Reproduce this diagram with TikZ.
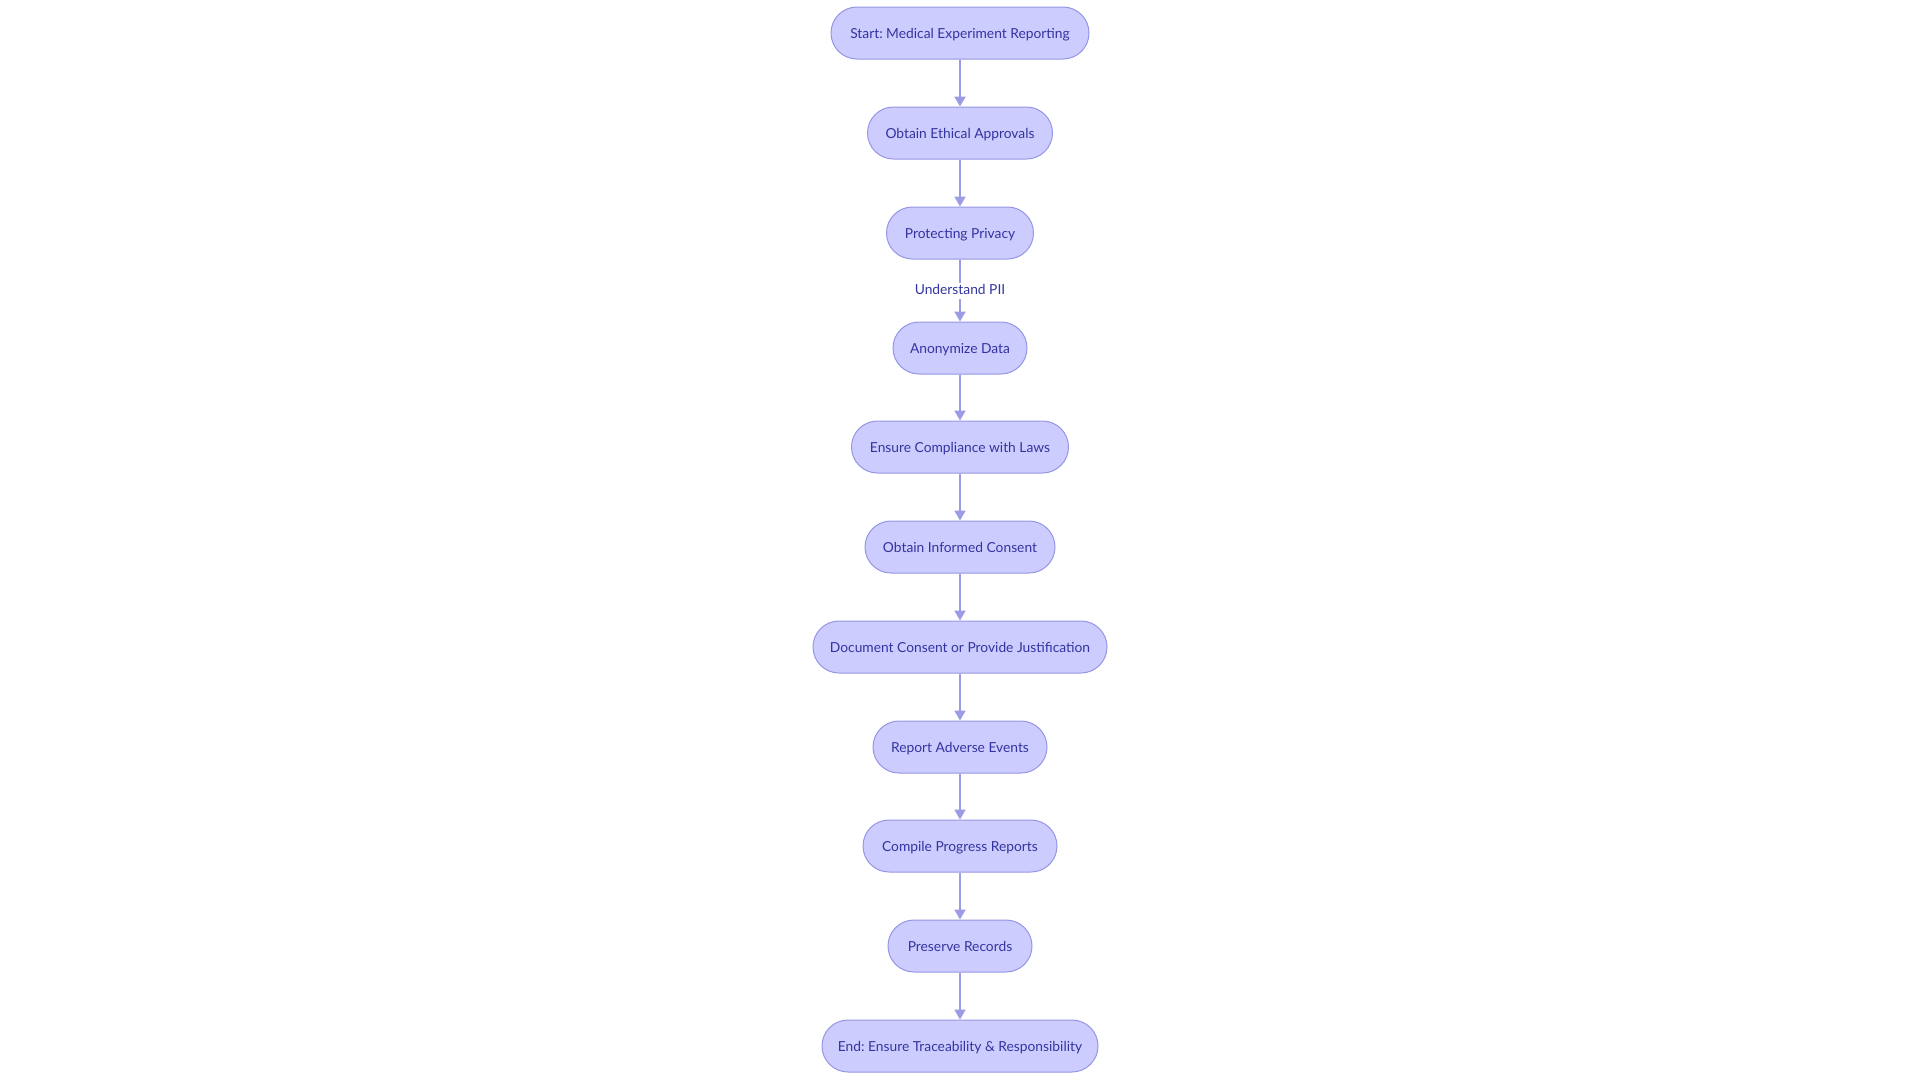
\documentclass[tikz,border=0pt]{standalone}
\usepackage{fontspec}
\setmainfont{Lato}
\usetikzlibrary{arrows.meta}
\definecolor{nodefill}{RGB}{204,204,255}
\definecolor{nodeline}{RGB}{150,150,228}
\definecolor{edgecol}{RGB}{155,155,230}
\definecolor{txtcol}{RGB}{52,52,160}
\tikzset{
  stadium/.style={draw=nodeline, fill=nodefill, line width=1pt, rounded corners=26pt,
    minimum height=52pt, inner xsep=0pt, inner ysep=0pt, text=txtcol,
    text height=10pt, text depth=0pt,
    font=\fontsize{13.8}{16}\selectfont, anchor=center},
  flow/.style={draw=edgecol, line width=2pt, -{Triangle[length=10pt,width=11pt]}},
  elabel/.style={fill=white, text=txtcol, inner sep=2pt, text height=10pt, text depth=2pt,
    font=\fontsize{13.8}{16}\selectfont}
}
\begin{document}
\frenchspacing
\begin{tikzpicture}[x=1pt,y=-1pt]
\useasboundingbox (0,0) rectangle (1920,1080);
\node[stadium, minimum width=258pt] (n1) at (960,33) {Start: Medical Experiment Reporting};
\node[stadium, minimum width=185pt] (n2) at (960,133) {Obtain Ethical Approvals};
\node[stadium, minimum width=147pt] (n3) at (960,233) {Protecting Privacy};
\node[stadium, minimum width=134pt] (n4) at (960,348) {Anonymize Data};
\node[stadium, minimum width=217pt] (n5) at (960,447) {Ensure Compliance with Laws};
\node[stadium, minimum width=190pt] (n6) at (960,547) {Obtain Informed Consent};
\node[stadium, minimum width=294pt] (n7) at (960,647) {Document Consent or Provide Justification};
\node[stadium, minimum width=174pt] (n8) at (960,747) {Report Adverse Events};
\node[stadium, minimum width=194pt] (n9) at (960,846) {Compile Progress Reports};
\node[stadium, minimum width=144pt] (n10) at (960,946) {Preserve Records};
\node[stadium, minimum width=276pt] (n11) at (960,1046) {End: Ensure Traceability \& Responsibility};
\draw[flow] (n1) -- (n2);
\draw[flow] (n2) -- (n3);
\draw[flow] (n3) -- node[elabel] (lbl) {Understand PII} (n4);
\draw[flow] (n4) -- (n5);
\draw[flow] (n5) -- (n6);
\draw[flow] (n6) -- (n7);
\draw[flow] (n7) -- (n8);
\draw[flow] (n8) -- (n9);
\draw[flow] (n9) -- (n10);
\draw[flow] (n10) -- (n11);
\end{tikzpicture}
\end{document}
